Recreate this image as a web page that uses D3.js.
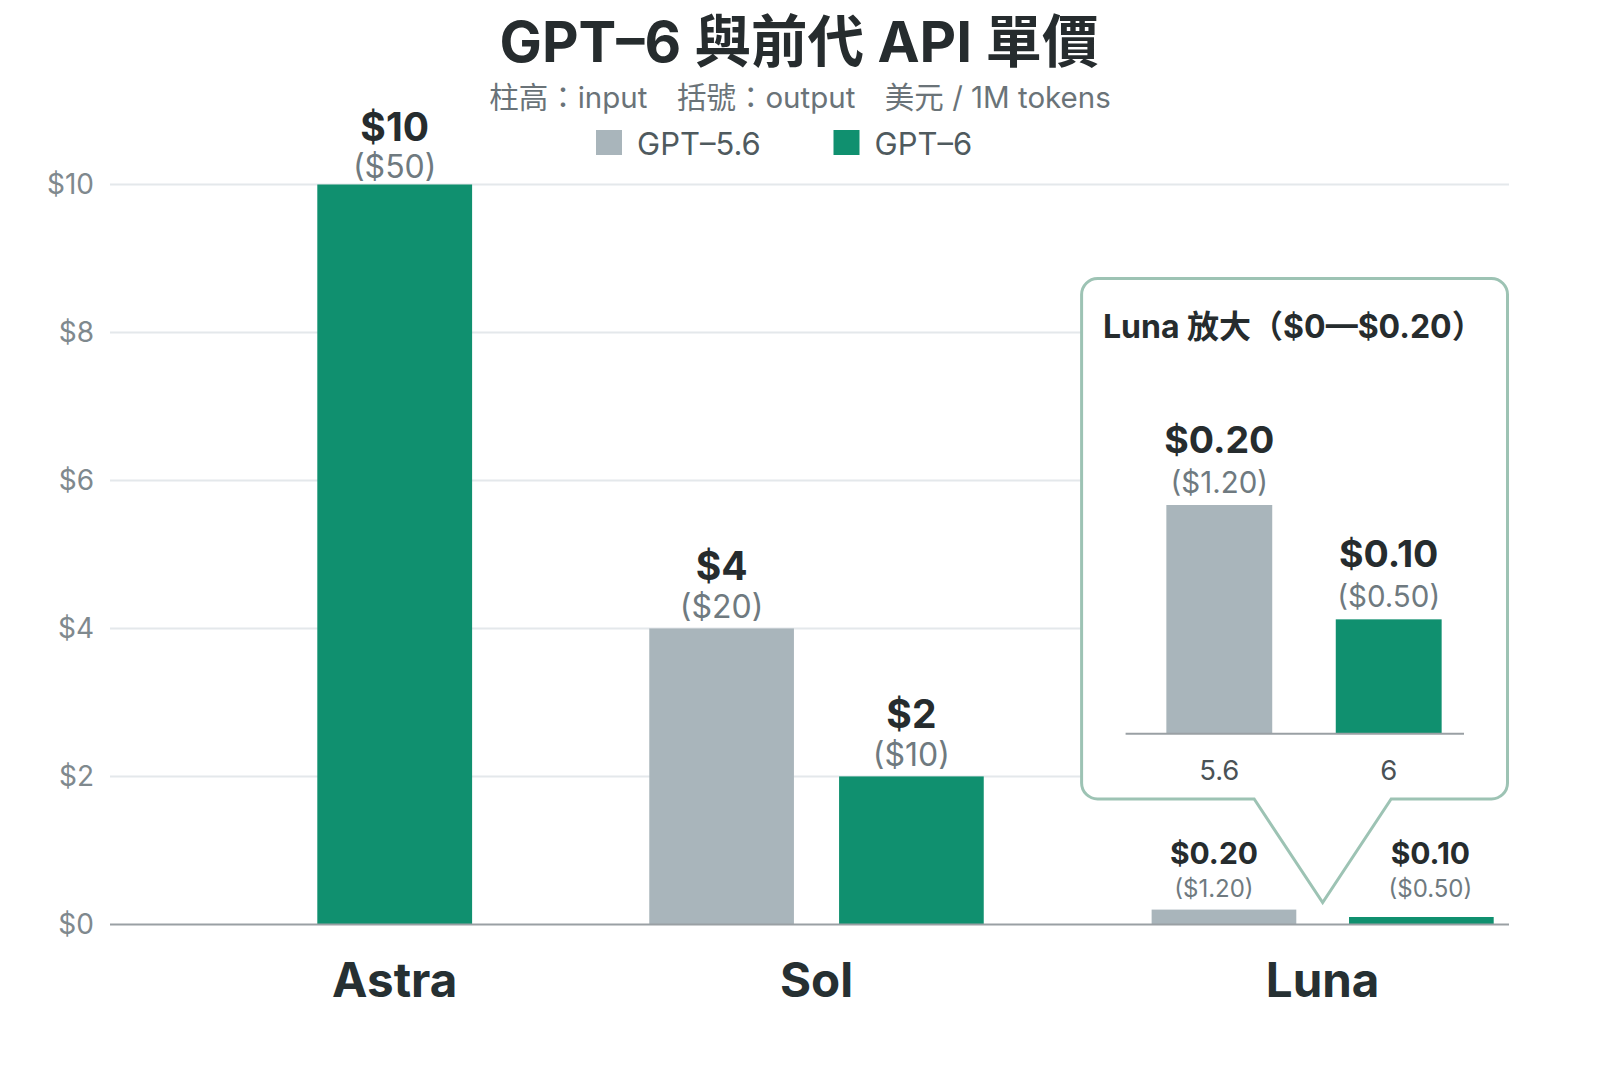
<!DOCTYPE html>
<html>
<head>
<meta charset="utf-8">
<script src="https://cdn.jsdelivr.net/npm/d3@7"></script>
<style>
  html, body { margin: 0; padding: 0; background: #ffffff; }
  svg { display: block; }
  text { font-family: Inter, "Noto Sans CJK TC", "Noto Sans", sans-serif; }
</style>
</head>
<body>
<svg id="chart" width="1600" height="1067"></svg>
<script>
// ---------- data ----------
const categories = ["Astra", "Sol", "Luna"];
const seriesNames = ["GPT\u20135.6", "GPT\u20136"];
const gpt56Input  = [null, 4, 0.20];
const gpt56Output = [null, 20, 1.20];
const gpt6Input   = [10, 2, 0.10];
const gpt6Output  = [50, 10, 0.50];
const yTicks = [0, 2, 4, 6, 8, 10];
const insetCategory = "Luna";
const insetLabels = ["5.6", "6"];
const insetDomainMax = 0.20;

const titleText = "GPT\u20136 與前代 API 單價";
const subtitleText = "柱高：input\u3000括號：output\u3000美元 / 1M tokens";
const insetTitle = "Luna 放大（$0—$0.20）";

// ---------- style / layout ----------
const COLORS = ["#a9b5bb", "#10906f"];
const svg = d3.select("#chart");
const plot = { left: 110, right: 1509, top: 184.5, bottom: 924.4 };
// group slots along x (Luna pushed right to leave room for the zoom callout)
const groupSlot = [0, 1, 2.2];
const pairOffsetSlot = [0, 0.225, 0.234];

const y = d3.scaleLinear().domain([0, 10]).range([plot.bottom, plot.top]);
const x = d3.scaleLinear().domain([0, 1]).range([394.7, 816.5]);
const unit = x(1) - x(0);
const pairWidth = 0.343 * unit, singleWidth = 0.367 * unit;

const fmtIn = v => v < 1 ? "$" + v.toFixed(2) : "$" + d3.format(",")(v);
const fmtOut = v => Number.isInteger(v) ? "($" + v + ")" : "($" + v.toFixed(2) + ")";

// ---------- title, subtitle, legend ----------
svg.append("text").attr("x", 799).attr("y", 41).attr("text-anchor", "middle")
  .attr("dominant-baseline", "central").attr("font-size", 56.5).attr("font-weight", 700)
  .attr("fill", "#262c2e").text(titleText);
svg.append("text").attr("x", 800).attr("y", 97).attr("text-anchor", "middle")
  .attr("dominant-baseline", "central").attr("font-size", 29.5)
  .attr("fill", "#6a7378").text(subtitleText);

const legendX = [596, 833.5];
seriesNames.forEach((name, i) => {
  const g = svg.append("g").attr("transform", `translate(${legendX[i]},130)`);
  g.append("rect").attr("width", 26).attr("height", 25).attr("fill", COLORS[i]);
  g.append("text").attr("x", 41).attr("y", 13).attr("dominant-baseline", "central")
    .attr("font-size", 31).attr("fill", "#4f5a5e").text(name);
});

// ---------- grid + y axis ----------
const grid = svg.append("g");
grid.selectAll("line").data(yTicks.filter(t => t > 0)).join("line")
  .attr("x1", plot.left).attr("x2", plot.right)
  .attr("y1", d => y(d)).attr("y2", d => y(d))
  .attr("stroke", "#e4e8eb").attr("stroke-width", 2);

const yAxis = svg.append("g").attr("transform", `translate(${plot.left},0)`)
  .call(d3.axisLeft(y).tickValues(yTicks).tickFormat(d => "$" + d).tickSize(0).tickPadding(16));
yAxis.select(".domain").remove();
yAxis.selectAll("text").attr("font-size", 28).attr("fill", "#7f898e")
  .attr("font-family", 'Inter, "Noto Sans CJK TC", sans-serif');

// ---------- bars ----------
const bars = [];
categories.forEach((c, i) => {
  const cx = x(groupSlot[i]);
  const vals = [[gpt56Input[i], gpt56Output[i]], [gpt6Input[i], gpt6Output[i]]];
  const present = vals.map((v, s) => ({ s, v })).filter(d => d.v[0] != null);
  present.forEach((d, k) => {
    const w = present.length === 1 ? singleWidth : pairWidth;
    const off = present.length === 1 ? 0 : (k === 0 ? -1 : 1) * pairOffsetSlot[i] * unit;
    bars.push({ cat: c, i, s: d.s, input: d.v[0], output: d.v[1], cx: cx + off, w, n: present.length, k });
  });
});

svg.append("g").selectAll("rect").data(bars).join("rect")
  .attr("x", d => d.cx - d.w / 2).attr("width", d => d.w)
  .attr("y", d => y(d.input)).attr("height", d => y(0) - y(d.input))
  .attr("fill", d => COLORS[d.s]);

// baseline
svg.append("line").attr("x1", plot.left).attr("x2", plot.right)
  .attr("y1", y(0)).attr("y2", y(0)).attr("stroke", "#9aa0a4").attr("stroke-width", 2);

// value labels
const small = d => d.cat === insetCategory;
const labelG = svg.append("g");
bars.forEach(d => {
  if (small(d)) {
    const anchorY = y(d3.max([gpt56Input[d.i], gpt6Input[d.i]]));
    const lx = d.cx + (d.k === 0 ? -10 : 9);
    labelG.append("text").attr("x", lx).attr("y", anchorY - 57)
      .attr("text-anchor", "middle").attr("dominant-baseline", "central")
      .attr("font-size", 30).attr("font-weight", 700).attr("fill", "#262c2e").text(fmtIn(d.input));
    labelG.append("text").attr("x", lx).attr("y", anchorY - 21)
      .attr("text-anchor", "middle").attr("dominant-baseline", "central")
      .attr("font-size", 24).attr("fill", "#6f7a80").text(fmtOut(d.output));
  } else {
    const top = y(d.input);
    const big = d.input >= 10;
    labelG.append("text").attr("x", d.cx).attr("y", top - (big ? 58.5 : 62.5))
      .attr("text-anchor", "middle").attr("dominant-baseline", "central")
      .attr("font-size", 39).attr("font-weight", 700).attr("fill", "#262c2e").text(fmtIn(d.input));
    labelG.append("text").attr("x", d.cx).attr("y", top - (big ? 18.5 : 22))
      .attr("text-anchor", "middle").attr("dominant-baseline", "central")
      .attr("font-size", 32).attr("fill", "#6f7a80").text(fmtOut(d.output));
  }
});

// category labels
svg.append("g").selectAll("text").data(categories).join("text")
  .attr("x", (d, i) => x(groupSlot[i])).attr("y", 979)
  .attr("text-anchor", "middle").attr("dominant-baseline", "central")
  .attr("font-size", 47.5).attr("font-weight", 700).attr("fill", "#263032").text(d => d);

// ---------- zoom callout ----------
const li = categories.indexOf(insetCategory);
const box = { x0: 1081.6, y0: 278.5, x1: 1507.5, y1: 799, r: 16 };
const tip = { x: x(groupSlot[li]), y: y(d3.max([gpt56Input[li], gpt6Input[li]])) - 7 };
const baseL = tip.x - 68.5, baseR = tip.x + 68.5;
const p = d3.path();
p.moveTo(box.x0 + box.r, box.y0);
p.lineTo(box.x1 - box.r, box.y0);
p.arcTo(box.x1, box.y0, box.x1, box.y0 + box.r, box.r);
p.lineTo(box.x1, box.y1 - box.r);
p.arcTo(box.x1, box.y1, box.x1 - box.r, box.y1, box.r);
p.lineTo(baseR, box.y1);
p.lineTo(tip.x, tip.y);
p.lineTo(baseL, box.y1);
p.lineTo(box.x0 + box.r, box.y1);
p.arcTo(box.x0, box.y1, box.x0, box.y1 - box.r, box.r);
p.lineTo(box.x0, box.y0 + box.r);
p.arcTo(box.x0, box.y0, box.x0 + box.r, box.y0, box.r);
p.closePath();
svg.append("path").attr("d", p.toString()).attr("fill", "#ffffff")
  .attr("stroke", "#9dc3b4").attr("stroke-width", 3).attr("stroke-linejoin", "miter");

svg.append("text").attr("x", 1103).attr("y", 326.5).attr("dominant-baseline", "central")
  .attr("font-size", 32).attr("font-weight", 700).attr("fill", "#262c2e").text(insetTitle);

const iy = d3.scaleLinear().domain([0, insetDomainMax]).range([733.7, 505]);
const ix = d3.scaleBand().domain(insetLabels).range([1124, 1484]).paddingInner(0.375).paddingOuter(0.25);
const insetIn = [gpt56Input[li], gpt6Input[li]];
const insetOut = [gpt56Output[li], gpt6Output[li]];
const inset = svg.append("g");
inset.selectAll("rect").data(insetLabels).join("rect")
  .attr("x", d => ix(d)).attr("width", ix.bandwidth())
  .attr("y", (d, i) => iy(insetIn[i])).attr("height", (d, i) => iy(0) - iy(insetIn[i]))
  .attr("fill", (d, i) => COLORS[i]);
inset.append("line").attr("x1", box.x0 + 44).attr("x2", box.x1 - 43.5)
  .attr("y1", iy(0)).attr("y2", iy(0)).attr("stroke", "#9aa0a4").attr("stroke-width", 2);
insetLabels.forEach((lab, i) => {
  const cx = ix(lab) + ix.bandwidth() / 2;
  const top = iy(insetIn[i]);
  inset.append("text").attr("x", cx).attr("y", top - 66)
    .attr("text-anchor", "middle").attr("dominant-baseline", "central")
    .attr("font-size", 37.5).attr("font-weight", 700).attr("fill", "#262c2e").text(fmtIn(insetIn[i]));
  inset.append("text").attr("x", cx).attr("y", top - 23)
    .attr("text-anchor", "middle").attr("dominant-baseline", "central")
    .attr("font-size", 29.5).attr("fill", "#6f7a80").text(fmtOut(insetOut[i]));
  inset.append("text").attr("x", cx).attr("y", 770)
    .attr("text-anchor", "middle").attr("dominant-baseline", "central")
    .attr("font-size", 27.5).attr("fill", "#4a5256").text(lab);
});
</script>
</body>
</html>
